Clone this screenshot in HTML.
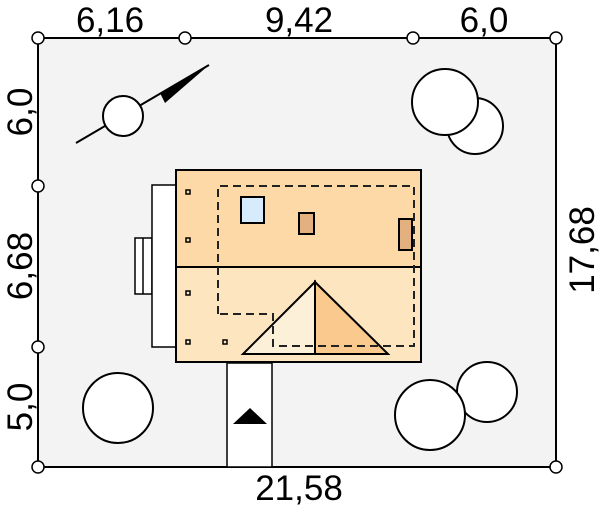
<!DOCTYPE html>
<html><head><style>body{margin:0;background:#fff}svg{display:block}</style></head><body>
<svg width="600" height="508" viewBox="0 0 600 508" xmlns="http://www.w3.org/2000/svg" font-family="Liberation Sans, sans-serif">
<rect x="38" y="38" width="518" height="429" fill="#f3f3f3" stroke="#000" stroke-width="2"/>
<g fill="#000" font-size="35" text-anchor="middle">
<text x="110" y="32">6,16</text>
<text x="299" y="32">9,42</text>
<text x="484" y="32">6,0</text>
<text x="299" y="500">21,58</text>
<text transform="translate(32,112) rotate(-90)">6,0</text>
<text transform="translate(32,266) rotate(-90)">6,68</text>
<text transform="translate(32,407) rotate(-90)">5,0</text>
<text transform="translate(594,250) rotate(-90)">17,68</text>
</g>
<!-- compass -->
<line x1="76" y1="143" x2="209" y2="65" stroke="#000" stroke-width="2"/>
<polygon points="209,65 160,93 165,103" fill="#000"/>
<circle cx="123" cy="116" r="20" fill="#fff" stroke="#000" stroke-width="2"/>
<!-- trees -->
<g fill="#fff" stroke="#000" stroke-width="2">
<circle cx="475" cy="126" r="28"/>
<circle cx="445" cy="102" r="33"/>
<circle cx="487" cy="392" r="30"/>
<circle cx="430" cy="415" r="35"/>
<circle cx="118" cy="408" r="35"/>
</g>
<!-- annex -->
<rect x="135" y="238" width="17" height="56" fill="#fff" stroke="#000" stroke-width="1.5"/>
<line x1="143" y1="238" x2="143" y2="294" stroke="#000" stroke-width="1.5"/>
<rect x="152" y="185" width="24" height="162" fill="#fff" stroke="#000" stroke-width="1.5"/>
<!-- house -->
<rect x="176" y="170" width="245" height="97" fill="#fcd9a6" stroke="#000" stroke-width="2"/>
<rect x="176" y="267" width="245" height="95" fill="#fde5c0" stroke="#000" stroke-width="2"/>
<polygon points="315,282 243,354 315,354" fill="#fdf0d8" stroke="#000" stroke-width="2"/>
<polygon points="315,282 388,354 315,354" fill="#f9c98e" stroke="#000" stroke-width="2"/>
<path d="M218,314 V186 H414 V346 H273 V314 Z" fill="none" stroke="#222" stroke-width="2" stroke-dasharray="8,5"/>
<rect x="241" y="197" width="23" height="26" fill="#d6ebfb" stroke="#000" stroke-width="2"/>
<rect x="299" y="213" width="15" height="21" fill="#e3b07f" stroke="#000" stroke-width="2"/>
<rect x="399" y="219" width="13" height="31" fill="#e3b07f" stroke="#000" stroke-width="2"/>
<g fill="none" stroke="#000" stroke-width="1.5">
<rect x="186" y="190" width="4" height="4"/><rect x="186" y="238" width="4" height="4"/>
<rect x="186" y="291" width="4" height="4"/><rect x="186" y="340" width="4" height="4"/>
<rect x="223" y="340" width="4" height="4"/>
</g>
<!-- driveway -->
<rect x="227" y="363" width="45" height="104" fill="#fff" stroke="#000" stroke-width="1.5"/>
<polygon points="233,424 267,424 250,408" fill="#000"/>
<!-- corner markers -->
<g fill="#fff" stroke="#000" stroke-width="1.5">
<circle cx="38" cy="38" r="6"/><circle cx="185" cy="38" r="6"/><circle cx="413" cy="38" r="6"/><circle cx="556" cy="38" r="6"/>
<circle cx="38" cy="186" r="6"/><circle cx="38" cy="347" r="6"/><circle cx="38" cy="467" r="6"/><circle cx="556" cy="467" r="6"/>
</g>
</svg>
</body></html>
